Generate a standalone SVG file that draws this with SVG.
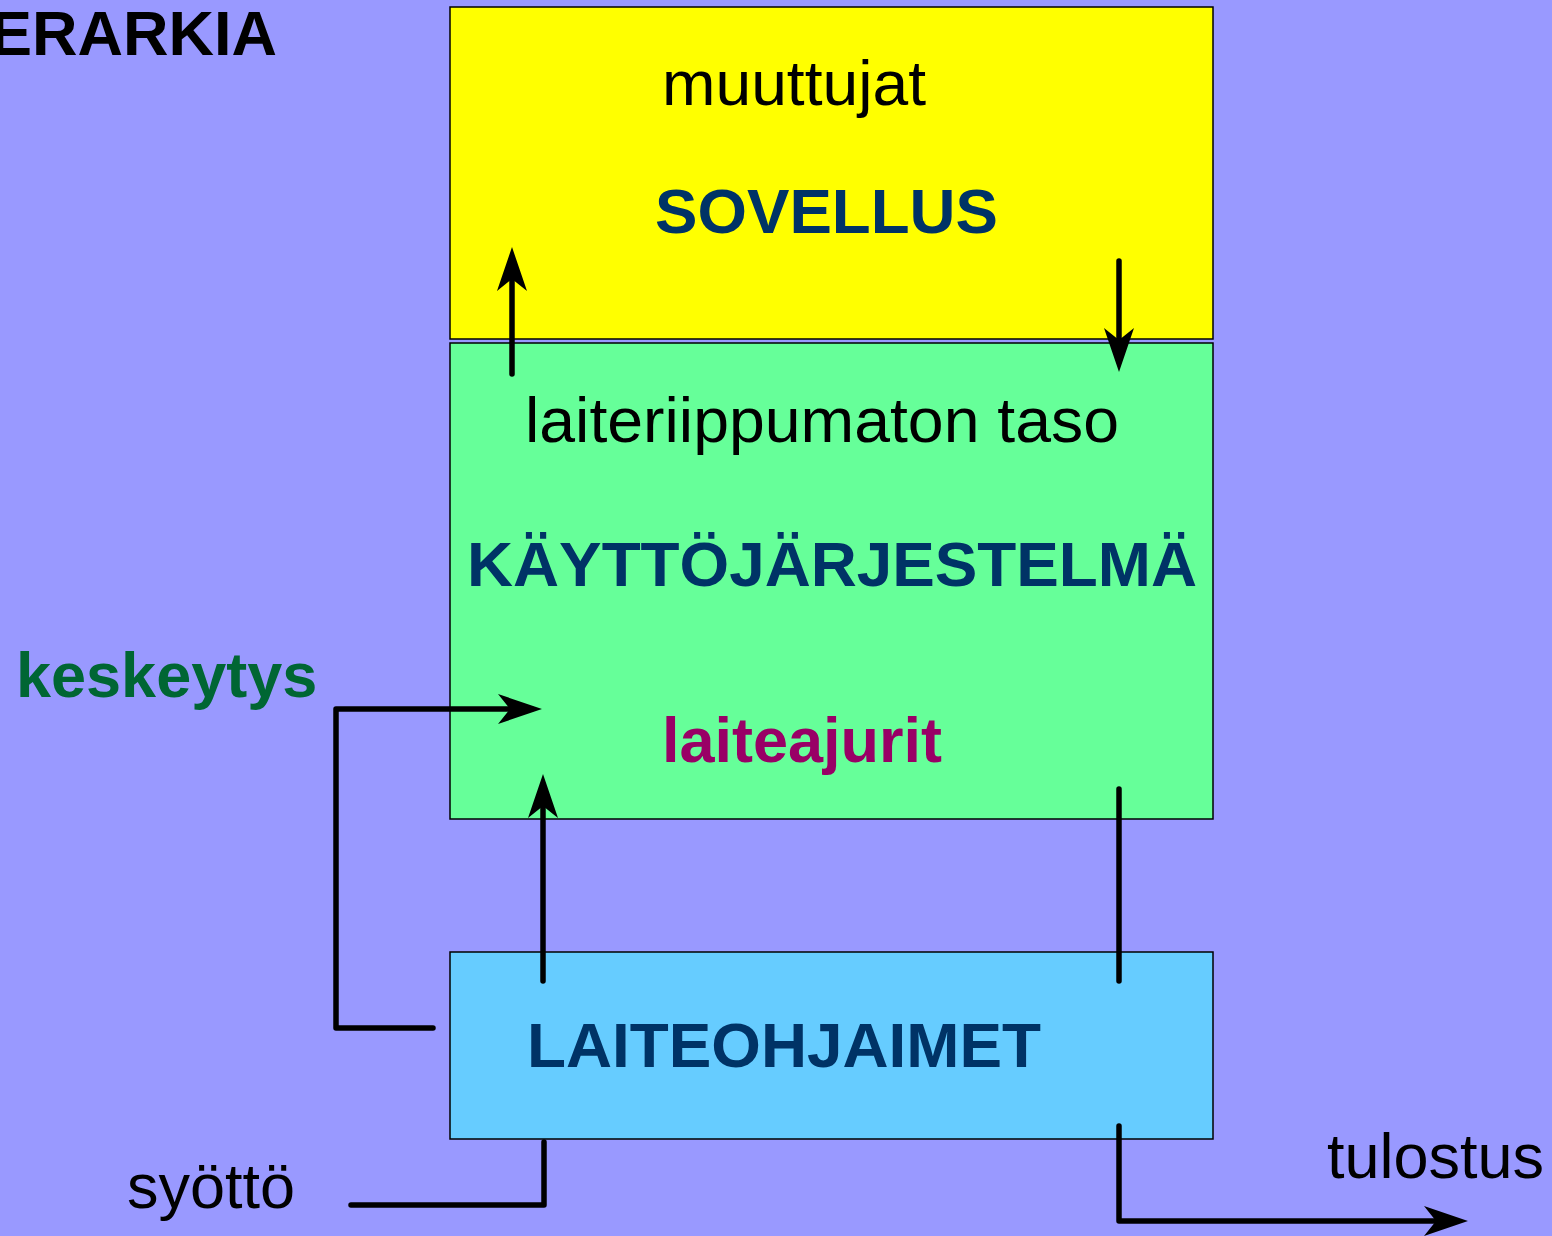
<svg xmlns="http://www.w3.org/2000/svg" width="1552" height="1236" viewBox="0 0 1552 1236">
<style>
.box{stroke:#000;stroke-width:1.5}
.t{font-family:"Liberation Sans",Arial,sans-serif;font-size:63px}
.b{font-weight:bold}
.navy{fill:#003366}
.conn{fill:none;stroke:#000;stroke-width:5.5;stroke-linecap:round;stroke-linejoin:round}
</style>
<defs>
<marker id="ah" markerUnits="userSpaceOnUse" viewBox="-14 -17 48 34" markerWidth="48" markerHeight="34" refX="0" refY="0" orient="auto">
<path d="M32,0 L-12,-15 L0,0 L-12,15 Z" fill="#000"/>
</marker>
</defs>
<rect x="0" y="0" width="1552" height="1236" fill="#9999FF"/>
<text class="t b" x="-10" y="55" font-size="62" fill="#000">ERARKIA</text>
<g id="sovellus">
<rect class="box" x="450" y="7" width="763" height="332" fill="#FFFF00"/>
<text class="t" x="662" y="105" fill="#000" textLength="264" lengthAdjust="spacingAndGlyphs">muuttujat</text>
<text class="t b navy" x="655" y="233" textLength="343" lengthAdjust="spacingAndGlyphs">SOVELLUS</text>
</g>
<g id="kayttojarjestelma">
<rect class="box" x="450" y="343" width="763" height="476" fill="#66FF99"/>
<text class="t" x="525" y="442" fill="#000" textLength="594" lengthAdjust="spacingAndGlyphs">laiteriippumaton taso</text>
<text class="t b navy" x="467" y="586" textLength="730" lengthAdjust="spacingAndGlyphs">KÄYTTÖJÄRJESTELMÄ</text>
<text class="t b" x="662" y="762" fill="#990066">laiteajurit</text>
</g>
<g id="laiteohjaimet">
<rect class="box" x="450" y="952" width="763" height="187" fill="#66CCFF"/>
<text class="t b navy" x="527" y="1067" textLength="514" lengthAdjust="spacingAndGlyphs">LAITEOHJAIMET</text>
</g>
<g id="labels">
<text class="t b" x="16" y="697" fill="#006633">keskeytys</text>
<text class="t" x="127" y="1208" fill="#000">syöttö</text>
<text class="t" x="1327" y="1178" fill="#000">tulostus</text>
</g>
<g id="connectors">
<path class="conn" d="M512,374 V279" marker-end="url(#ah)"/>
<path class="conn" d="M1119,261 V340" marker-end="url(#ah)"/>
<path class="conn" d="M433,1028 H336 V709 H510" marker-end="url(#ah)"/>
<path class="conn" d="M543,981 V806" marker-end="url(#ah)"/>
<path class="conn" d="M1119,789 V981"/>
<path class="conn" d="M351,1205 H544 V1142"/>
<path class="conn" d="M1119,1126 V1221 H1436" marker-end="url(#ah)"/>
</g>
</svg>
